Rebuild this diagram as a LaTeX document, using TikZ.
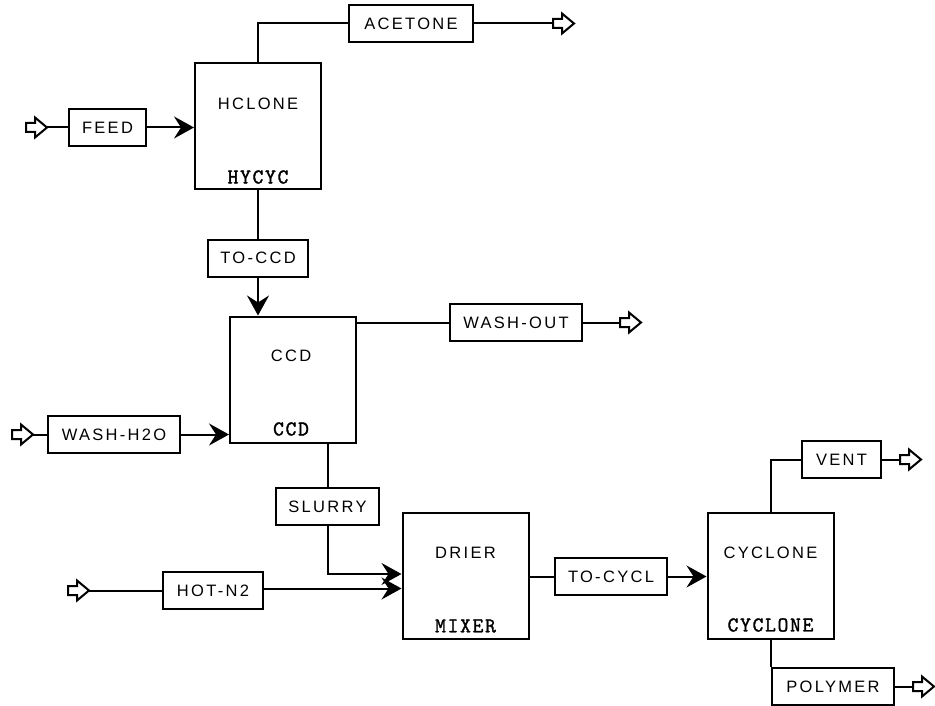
\documentclass[tikz,border=0pt]{standalone}
\usepackage{fontspec}
\setmainfont{Liberation Sans}
\newfontfamily\lblfont[LetterSpace=14]{Liberation Sans}
\newfontfamily\typfont[LetterSpace=8,FakeBold=1.6]{Latin Modern Mono}
\usetikzlibrary{arrows.meta}
\tikzset{
  conn/.style={line width=2pt},
  flow/.style={conn, -{Stealth[length=20pt,width=22pt,inset=7pt]}},
  block/.style={draw, line width=2pt, minimum width=126pt, minimum height=126pt, inner sep=0pt},
  stream/.style={draw, line width=2pt, minimum height=37pt, inner sep=0pt, font=\lblfont\fontsize{16.5}{18}\selectfont},
  btitle/.style={font=\lblfont\fontsize{16.5}{18}\selectfont, inner sep=0pt},
  btype/.style={font=\typfont\fontsize{21}{23}\selectfont, inner sep=0pt},
  openarrow/.pic={\draw[line width=2pt, fill=white, line join=miter] (0,-4.5)--(9,-4.5)--(9,-10)--(21,0)--(9,10)--(9,4.5)--(0,4.5)--cycle;}
}
\begin{document}
\begin{tikzpicture}[x=1pt,y=-1pt]
\useasboundingbox[fill=white] (0,0) rectangle (935,706);

% blocks
\node[block] (hclone) at (258,126.5) {};
\node[btitle] (hcloneT) at (258,104) {HCLONE};
\node[btype] (hcloneB) at (258,177) {HYCYC};

\node[block] (ccd) at (293,379.5) {};
\node[btitle] (ccdT) at (291,356) {CCD};
\node[btype] (ccdB) at (291,429) {CCD};

\node[block] (drier) at (465.5,575.5) {};
\node[btitle] (drierT) at (465.5,553) {DRIER};
\node[btype] (drierB) at (465.5,626) {MIXER};

\node[block] (cyclone) at (770.5,575.5) {};
\node[btitle] (cycloneT) at (770.5,553) {CYCLONE};
\node[btype] (cycloneB) at (770.5,625) {CYCLONE};

% stream labels
\node[stream, minimum width=77pt] (feed) at (107.5,127.5) {FEED};
\node[stream, minimum width=124pt] (acetone) at (411,23.5) {ACETONE};
\node[stream, minimum width=100pt] (toccd) at (258,258) {TO-CCD};
\node[stream, minimum width=132pt] (washout) at (516,322.5) {WASH-OUT};
\node[stream, minimum width=132pt] (washin) at (114,434.5) {WASH-H2O};
\node[stream, minimum width=103pt] (slurry) at (327.5,506.5) {SLURRY};
\node[stream, minimum width=100pt] (hotn2) at (213,590.5) {HOT-N2};
\node[stream, minimum width=112pt] (tocycl) at (611,576.5) {TO-CYCL};
\node[stream, minimum width=79pt] (vent) at (841.5,459.5) {VENT};
\node[stream, minimum width=122pt] (polymer) at (833,686.5) {POLYMER};

% free ends
\coordinate (feedA) at (47,127.5);
\coordinate (acetoneA) at (553,23.5);
\coordinate (washoutA) at (620,322.5);
\coordinate (washinA) at (33,434.5);
\coordinate (hotA) at (89,590.5);
\coordinate (ventA) at (900,459.5);
\coordinate (polyA) at (913,686.5);

\pic at (26,127.5) {openarrow};
\pic at (553,23.5) {openarrow};
\pic at (620,322.5) {openarrow};
\pic at (12,434.5) {openarrow};
\pic at (68,590.5) {openarrow};
\pic at (900,459.5) {openarrow};
\pic at (913,686.5) {openarrow};

% connectors
\draw[conn] (feedA) -- (feed.west);
\draw[flow] (feed.east) -- (feed.east -| hclone.west);
\draw[conn] (hclone.north) |- (acetone.west);
\draw[conn] (acetone.east) -- (acetoneA);
\draw[conn] (hclone.south) -- (toccd.north);
\draw[flow] (toccd.south) -- (toccd.south |- ccd.north);
\draw[conn] (washout.west -| ccd.east) -- (washout.west);
\draw[conn] (washout.east) -- (washoutA);
\draw[conn] (washinA) -- (washin.west);
\draw[flow] (washin.east) -- (washin.east -| ccd.west);
\draw[conn] (slurry.north |- ccd.south) -- (slurry.north);
\draw[flow] (slurry.south) |- ([yshift=1.5pt]drier.west);
\draw[conn] (hotA) -- (hotn2.west);
\draw[flow] ([yshift=2pt]hotn2.east) -- ([yshift=2pt]hotn2.east -| drier.west);
\draw[conn] (tocycl.west -| drier.east) -- (tocycl.west);
\draw[flow] (tocycl.east) -- (tocycl.east -| cyclone.west);
\draw[conn] (cyclone.north) |- (vent.west);
\draw[conn] (vent.east) -- (ventA);
\draw[conn] (cyclone.south) -- (cyclone.south |- polymer.north);
\draw[conn] (polymer.east) -- (polyA);
\end{tikzpicture}
\end{document}
